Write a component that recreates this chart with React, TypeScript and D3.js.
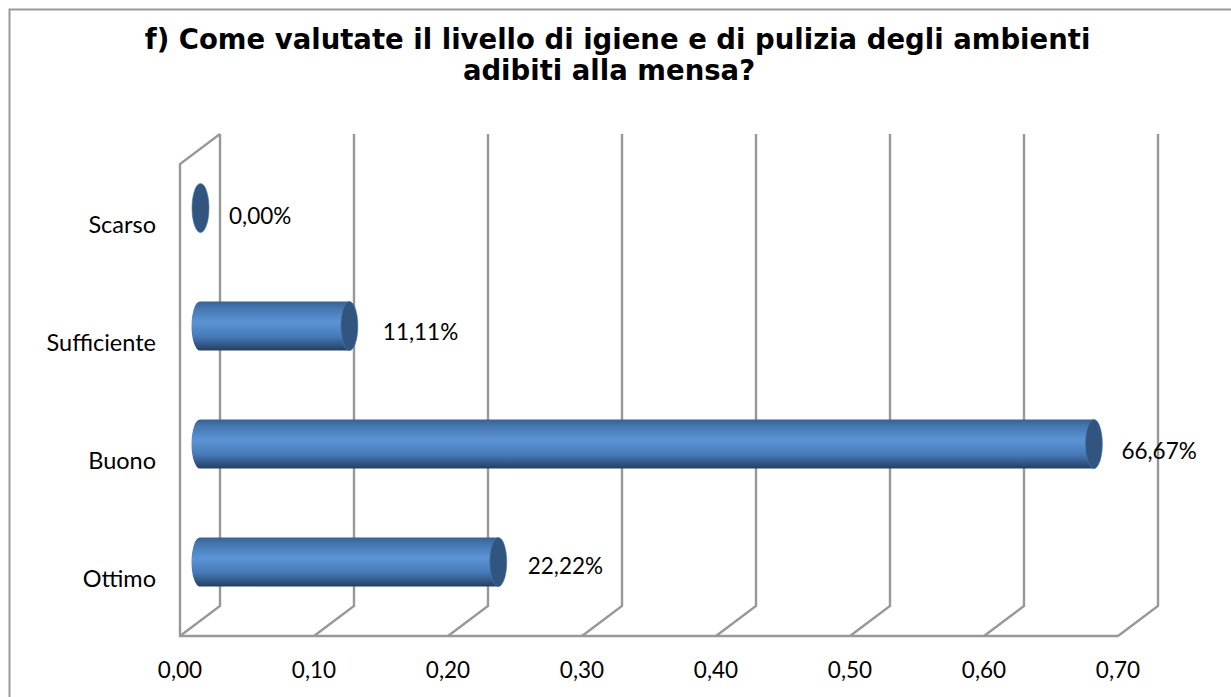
import React from "react";
import * as d3 from "d3";

const categories = ["Ottimo", "Buono", "Sufficiente", "Scarso"];
const values = [0.2222, 0.6667, 0.1111, 0];
const valueLabels = ["22,22%", "66,67%", "11,11%", "0,00%"];
const ticks = [0, 0.1, 0.2, 0.3, 0.4, 0.5, 0.6, 0.7];
const titleLines = [
  "f) Come valutate il livello di igiene e di pulizia degli ambienti",
  "adibiti alla mensa?",
];

const W = 1231;
const H = 697;
const FONT = "Lato, 'Open Sans', sans-serif";
const GRID = "#989898";
const labelFont = 22.5;
const categoryFont = 23.5;

const x = d3.scaleLinear().domain([0, 0.7]).range([180, 1118]);
const y = d3.scaleBand().domain(categories).range([636, 164]);
const dx = 40;
const dy = -30;
const barDx = 20;
const barDy = -15;
const barH = 49;
const rx = 8.5;
const titleX = [617.5, 609];
const labelShiftX = [30, 28, 34, 29];
const labelShiftY = [12, 15, 14, 16];

function cylinder(v: number, cy: number) {
  const x0 = x(0) + barDx;
  const x1 = x(v) + barDx;
  const r = barH / 2;
  return `M${x0},${cy - r}L${x1},${cy - r}A${rx},${r} 0 0 1 ${x1},${cy + r}L${x0},${cy + r}A${rx},${r} 0 0 1 ${x0},${cy - r}Z`;
}

export default function App() {
  return (
    <svg
      width={W}
      height={H}
      style={{ position: "absolute", left: 0, top: 0, background: "#fff" }}
    >
      <defs>
        <linearGradient id="barFill" x1="0" y1="0" x2="0" y2="1">
          <stop offset="0" stopColor="#38618f" />
          <stop offset="0.12" stopColor="#4475ae" />
          <stop offset="0.42" stopColor="#5b94d6" />
          <stop offset="0.72" stopColor="#4679b6" />
          <stop offset="0.9" stopColor="#2f5482" />
          <stop offset="1" stopColor="#233f60" />
        </linearGradient>
      </defs>
      <rect x={9.5} y={9.5} width={1240} height={720} fill="#fff" stroke="#9a9a9a" strokeWidth={2} />
      {titleLines.map((t, i) => (
        <text
          key={i}
          x={titleX[i]}
          y={49 + i * 31}
          textAnchor="middle"
          fontFamily="'DejaVu Sans', sans-serif"
          fontWeight="bold"
          fontSize={27.5}
          fill="#000"
        >
          {t}
        </text>
      ))}
      {ticks.map((t) => (
        <path
          key={t}
          d={`M${x(t)},636L${x(t) + dx},${636 + dy}L${x(t) + dx},134`}
          fill="none"
          stroke={GRID}
          strokeWidth={2.4}
        />
      ))}
      <path
        d={`M${x(0) + dx},134L${x(0)},164L${x(0)},636L${x(0.7)},636`}
        fill="none"
        stroke={GRID}
        strokeWidth={2.4}
      />
      {ticks.map((t) => (
        <text key={t} x={x(t)} y={678} textAnchor="middle" fontFamily={FONT} fontSize={labelFont} fill="#000">
          {d3.format(".2f")(t).replace(".", ",")}
        </text>
      ))}
      {categories.map((c, i) => {
        const cy = y(c)! + y.bandwidth() / 2 + barDy;
        const xe = x(values[i]) + barDx;
        return (
          <g key={c}>
            <text x={156} y={cy + 25} textAnchor="end" fontFamily={FONT} fontSize={categoryFont} fill="#000">
              {c}
            </text>
            {values[i] > 0 && <path d={cylinder(values[i], cy)} fill="url(#barFill)" />}
            <ellipse cx={xe + 0.5} cy={cy} rx={rx} ry={barH / 2} fill="#31557f" stroke="#4a7ab5" strokeWidth={0.6} />
            <text
              x={xe + labelShiftX[i]}
              y={cy + labelShiftY[i]}
              fontFamily={FONT}
              fontSize={labelFont}
              fill="#000"
            >
              {valueLabels[i]}
            </text>
          </g>
        );
      })}
    </svg>
  );
}
